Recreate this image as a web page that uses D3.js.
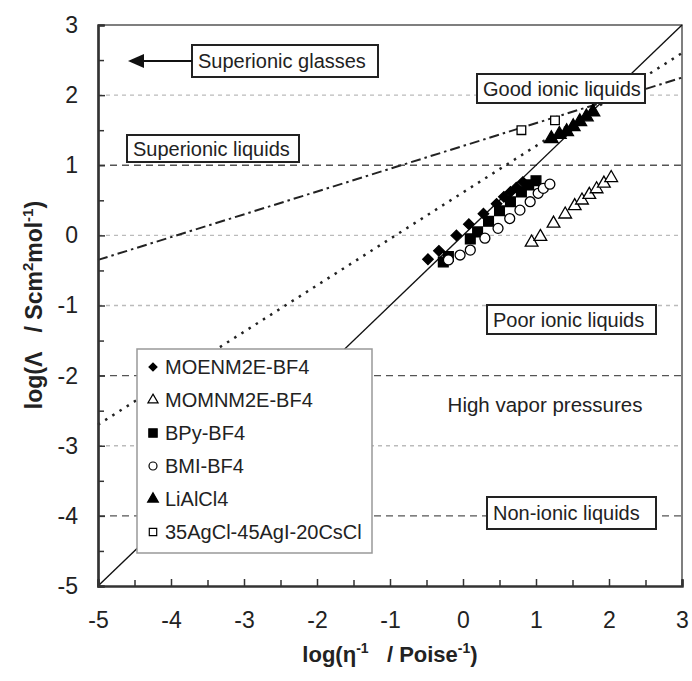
<!DOCTYPE html>
<html><head><meta charset="utf-8">
<script src="https://cdn.jsdelivr.net/npm/d3@7"></script>
<style>body{margin:0;background:#fff}svg{display:block;font-family:"Liberation Sans",Arial,sans-serif}</style>
</head><body><svg id="c" width="692" height="681"></svg>
<script>
const xTicks=[-5,-4,-3,-2,-1,0,1,2,3];
const yTicks=[-5,-4,-3,-2,-1,0,1,2,3];
const gridLight=[2,0,-1,-3];
const gridDark=[1,-2,-4];
const seriesNames=["MOENM2E-BF4","MOMNM2E-BF4","BPy-BF4","BMI-BF4","LiAlCl4","35AgCl-45AgI-20CsCl"];
const moenX=[-0.48,-0.33,-0.09,0.08,0.28,0.46,0.56,0.65,0.73,0.82];
const moenY=[-0.34,-0.22,0.0,0.16,0.31,0.45,0.55,0.62,0.68,0.76];
const momnX=[0.94,1.06,1.24,1.40,1.53,1.63,1.73,1.83,1.93,2.03];
const momnY=[-0.10,-0.02,0.17,0.30,0.42,0.50,0.58,0.66,0.74,0.82];
const bpyX=[-0.27,-0.20,0.10,0.20,0.35,0.50,0.65,0.80,0.90,1.00];
const bpyY=[-0.38,-0.30,-0.05,0.05,0.20,0.35,0.48,0.62,0.72,0.78];
const bmiX=[-0.20,-0.04,0.10,0.30,0.48,0.64,0.78,0.92,1.03,1.10,1.19];
const bmiY=[-0.35,-0.28,-0.21,-0.04,0.10,0.24,0.36,0.48,0.60,0.67,0.73];
const liX=[1.21,1.32,1.42,1.51,1.60,1.69,1.78];
const liY=[1.38,1.44,1.48,1.55,1.62,1.69,1.76];
const agX=[0.80,1.26];
const agY=[1.50,1.64];
const idealLine=[[-5,-5],[3,3]];
const dottedLine=[[-5,-2.7],[3,2.6]];
const dashDotLine=[[-5,-0.35],[3,2.25]];
const boxLabels=["Superionic glasses","Superionic liquids","Good ionic liquids","Poor ionic liquids","Non-ionic liquids"];
const freeLabel="High vapor pressures";

const svg=d3.select("#c");
const x=d3.scaleLinear([-5,3],[98,682]);
const y=d3.scaleLinear([-5,3],[586,25]);

// grid
svg.append("g").selectAll("line").data(gridLight).join("line")
  .attr("x1",x(-5)).attr("x2",x(3)).attr("y1",d=>y(d)).attr("y2",d=>y(d))
  .attr("stroke","#bbb").attr("stroke-width",1.3).attr("stroke-dasharray","4,4");
svg.append("g").selectAll("line").data(gridDark).join("line")
  .attr("x1",x(-5)).attr("x2",x(3)).attr("y1",d=>y(d)).attr("y2",d=>y(d))
  .attr("stroke","#555").attr("stroke-width",1.3).attr("stroke-dasharray","7,5");

// border top/right
svg.append("path").attr("d",`M${x(-5)},${y(3)}H${x(3)}V${y(-5)}`).attr("fill","none").attr("stroke","#555").attr("stroke-width",1.5);

// lines
const line=d3.line().x(d=>x(d[0])).y(d=>y(d[1]));
svg.append("path").attr("d",line(idealLine)).attr("stroke","#111").attr("stroke-width",1.4).attr("fill","none");
svg.append("path").attr("d",line(dottedLine)).attr("stroke","#222").attr("stroke-width",2.5).attr("stroke-dasharray","2.5,6").attr("fill","none");
svg.append("path").attr("d",line(dashDotLine)).attr("stroke","#222").attr("stroke-width",2).attr("stroke-dasharray","10,4,2.5,4").attr("fill","none");

// axes
const fmt=d=>String(d);
const xAx=svg.append("g").attr("transform",`translate(0,${y(-5)})`)
  .call(d3.axisBottom(x).tickValues(xTicks).tickSize(-7).tickPadding(26).tickFormat(fmt));
const xMin=svg.append("g").attr("transform",`translate(0,${y(-5)})`)
  .call(d3.axisBottom(x).tickValues(xTicks.slice(0,-1).map(v=>v+0.5)).tickSize(-6).tickFormat(""));
const yAx=svg.append("g").attr("transform",`translate(${x(-5)},0)`)
  .call(d3.axisLeft(y).tickValues(yTicks).tickSize(-7).tickPadding(20).tickFormat(fmt));
const yMin=svg.append("g").attr("transform",`translate(${x(-5)},0)`)
  .call(d3.axisLeft(y).tickValues(yTicks.slice(0,-1).map(v=>v+0.5)).tickSize(-6).tickFormat(""));
[xAx,yAx,xMin,yMin].forEach(g=>{
  g.select(".domain").attr("stroke","#333").attr("stroke-width",2.2);
  g.selectAll(".tick line").attr("stroke","#333").attr("stroke-width",1.5);
  g.selectAll("text").attr("font-size",23).attr("fill","#222").attr("font-family","Liberation Sans, Arial");
});

// markers
const sym=(t,s)=>d3.symbol().type(t).size(s)();
function plot(xs,ys,type,size,fill,rot){
  svg.append("g").selectAll("path").data(xs.map((v,i)=>[v,ys[i]])).join("path")
    .attr("d",sym(type,size)).attr("transform",d=>`translate(${x(d[0])},${y(d[1])}) rotate(${rot||0})`)
    .attr("fill",fill?"#000":"#fff").attr("stroke","#000").attr("stroke-width",1.3);
}
plot(moenX,moenY,d3.symbolSquare,55,true,45);
plot(bpyX,bpyY,d3.symbolSquare,95,true);
plot(bmiX,bmiY,d3.symbolCircle,78,false);
plot(momnX,momnY,d3.symbolTriangle,70,false);
plot(liX,liY,d3.symbolTriangle,80,true);
plot(agX,agY,d3.symbolSquare,75,false);

// text boxes
const boxes=[[192,45,378,77],[127,135,299,162],[477,74,645,103],[487,305,656,334],[487,497,656,529]];
boxes.forEach((b,i)=>{
  svg.append("rect").attr("x",b[0]).attr("y",b[1]).attr("width",b[2]-b[0]).attr("height",b[3]-b[1])
    .attr("fill","#fff").attr("stroke","#222").attr("stroke-width",2);
  svg.append("text").attr("x",b[0]+6).attr("y",(b[1]+b[3])/2+7).attr("font-size",20).attr("fill","#222").text(boxLabels[i]);
});
// arrow
svg.append("line").attr("x1",192).attr("x2",140).attr("y1",61).attr("y2",61).attr("stroke","#111").attr("stroke-width",2);
svg.append("path").attr("d","M128,61L144,54L144,68Z").attr("fill","#111");
svg.append("text").attr("x",545).attr("y",412).attr("text-anchor","middle").attr("font-size",20.5).attr("fill","#222").text(freeLabel);

// legend
const lg=svg.append("g");
lg.append("rect").attr("x",137).attr("y",349).attr("width",235).attr("height",204).attr("fill","#fff").attr("stroke","#999").attr("stroke-width",1.5);
const legSyms=[[d3.symbolSquare,32,true,45],[d3.symbolTriangle,45,false,0],[d3.symbolSquare,70,true,0],[d3.symbolCircle,50,false,0],[d3.symbolTriangle,50,true,0],[d3.symbolSquare,55,false,0]];
seriesNames.forEach((n,i)=>{
  const yy=367+i*33;
  lg.append("path").attr("d",sym(legSyms[i][0],legSyms[i][1])).attr("transform",`translate(153,${yy}) rotate(${legSyms[i][3]})`)
    .attr("fill",legSyms[i][2]?"#000":"#fff").attr("stroke","#000").attr("stroke-width",1.2);
  lg.append("text").attr("x",165).attr("y",yy+7).attr("font-size",20).attr("fill","#222").text(n);
});

// axis titles
const xt=svg.append("text").attr("x",390).attr("y",662).attr("text-anchor","middle").attr("font-size",22).attr("font-weight","bold").attr("fill","#222").attr("xml:space","preserve");
xt.append("tspan").text("log(η");
xt.append("tspan").attr("font-size",14).attr("dy",-9).text("-1");
xt.append("tspan").attr("dy",9).text("   / Poise");
xt.append("tspan").attr("font-size",14).attr("dy",-9).text("-1");
xt.append("tspan").attr("dy",9).text(")");
const yt=svg.append("text").attr("transform","translate(42,305) rotate(-90)").attr("text-anchor","middle").attr("font-size",23).attr("font-weight","bold").attr("fill","#222").attr("xml:space","preserve");
yt.append("tspan").text("log(Λ   / Scm");
yt.append("tspan").attr("font-size",15).attr("dy",-9).text("2");
yt.append("tspan").attr("dy",9).text("mol");
yt.append("tspan").attr("font-size",15).attr("dy",-9).text("-1");
yt.append("tspan").attr("dy",9).text(")");
</script></body></html>
